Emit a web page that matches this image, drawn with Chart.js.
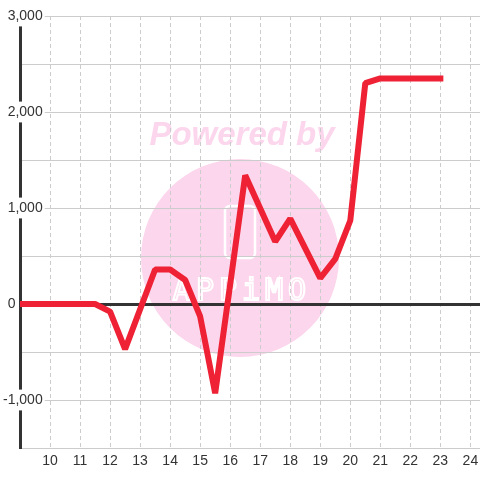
<!DOCTYPE html>
<html>
<head>
<meta charset="utf-8">
<script src="https://cdn.jsdelivr.net/npm/chart.js@4/dist/chart.umd.min.js"></script>
<style>
  html, body { margin: 0; padding: 0; background: #fff; }
  #wrap { width: 480px; height: 480px; }
</style>
</head>
<body>
<div id="wrap"><canvas id="c" width="480" height="480"></canvas></div>
<script>
// Data
const hours  = [9, 11.5, 12, 12.5, 13.5, 14, 14.5, 15, 15.5, 16.5, 17.5, 18, 19, 19.5, 20, 20.5, 21, 23];
const values = [0, 0, -80, -470, 360, 360, 250, -130, -930, 1340, 650, 890, 270, 470, 870, 2300, 2350, 2350];
const xTickLabels = [10, 11, 12, 13, 14, 15, 16, 17, 18, 19, 20, 21, 22, 23, 24];
const yTickLabels = [-1000, 0, 1000, 2000, 3000];

const points = hours.map((h, i) => ({ x: h, y: values[i] }));

const watermark = {
  id: 'watermark',
  beforeDraw(chart) {
    const ctx = chart.ctx;
    ctx.save();
    ctx.fillStyle = '#fcd6ec';
    ctx.beginPath();
    ctx.arc(240, 258, 99, 0, Math.PI * 2);
    ctx.fill();
    ctx.font = 'italic bold 33px "Liberation Sans", Arial, sans-serif';
    ctx.textAlign = 'center';
    ctx.textBaseline = 'alphabetic';
    ctx.fillText('Powered by', 242, 145);
    ctx.strokeStyle = '#ffffff';
    ctx.lineWidth = 2.5;
    ctx.beginPath();
    ctx.roundRect(225, 206, 30, 52, 5);
    ctx.stroke();
    ctx.lineWidth = 2;
    ctx.font = '30px "DejaVu Sans Mono", monospace';
    ctx.letterSpacing = '5px';
    ctx.strokeText('APPiMO', 242, 300);
    ctx.restore();
  }
};

new Chart(document.getElementById('c'), {
  type: 'line',
  data: {
    datasets: [{
      data: points,
      borderColor: '#ee2135',
      borderWidth: 6,
      borderCapStyle: 'square',
      borderJoinStyle: 'bevel',
      tension: 0,
      pointRadius: 0,
      fill: false
    }]
  },
  options: {
    responsive: false,
    animation: false,
    events: [],
    layout: { padding: { left: 20, top: 16, right: 0, bottom: 0 } },
    plugins: { legend: { display: false }, tooltip: { enabled: false } },
    scales: {
      x: {
        type: 'linear',
        min: 9,
        max: 24.32,
        afterFit: s => { s.height = 32; s.paddingLeft = 0; s.paddingRight = 0; },
        border: { display: true, color: '#cccccc', width: 1, dash: [4, 3] },
        grid: { color: '#cccccc', lineWidth: 1, drawTicks: false },
        ticks: {
          stepSize: 1,
          includeBounds: false,
          padding: 5,
          color: '#333333',
          font: { family: '"Liberation Sans", Arial, sans-serif', size: 14 },
          callback: v => xTickLabels.includes(v) ? String(v) : null
        }
      },
      y: {
        min: -1500,
        max: 3000,
        afterFit: s => { s.width = 0; s.paddingTop = 0; s.paddingBottom = 0; },
        border: { display: true, color: '#333333', width: 3 },
        grid: {
          color: ctx => (ctx.tick && ctx.tick.value === 0) ? '#333333' : '#cccccc',
          lineWidth: ctx => (ctx.tick && ctx.tick.value === 0) ? 3 : 1,
          drawTicks: false
        },
        ticks: {
          stepSize: 500,
          mirror: true,
          crossAlign: 'far',
          padding: -17,
          color: '#333333',
          font: { family: '"Liberation Sans", Arial, sans-serif', size: 14 },
          showLabelBackdrop: true,
          backdropColor: ctx => (ctx.tick && yTickLabels.includes(ctx.tick.value) && ctx.tick.value !== 0) ? '#ffffff' : 'rgba(0,0,0,0)',
          backdropPadding: 2,
          callback: v => {
            if (!yTickLabels.includes(v)) return '';
            if (v === 0) return '0       ';
            return v.toLocaleString('en-US');
          }
        }
      }
    }
  },
  plugins: [watermark]
});
</script>
</body>
</html>
